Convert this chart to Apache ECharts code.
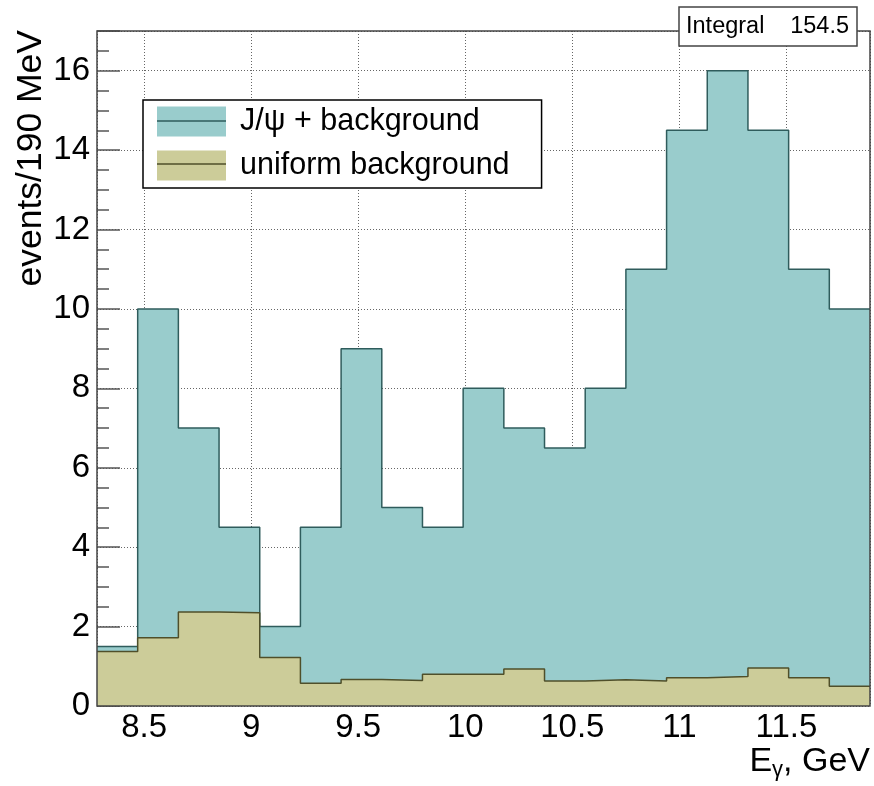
<!DOCTYPE html>
<html><head><meta charset="utf-8">
<script src="https://cdn.jsdelivr.net/npm/echarts@6/dist/echarts.min.js"></script>
<style>html,body{margin:0;padding:0;background:#fff}#c{width:874px;height:786px}</style>
</head><body><div id="c"></div>
<script>
// Bin edges of the 190 MeV histogram (GeV)
const binEdges = [8.28, 8.47, 8.66, 8.85, 9.04, 9.23, 9.42, 9.61, 9.80, 9.99,
                  10.18, 10.37, 10.56, 10.75, 10.94, 11.13, 11.32, 11.51, 11.70, 11.89];
// J/psi + background (events per bin)
const signalPlusBg = [1.5, 10, 7, 4.5, 2, 4.5, 9, 5, 4.5, 8, 7, 6.5, 8, 11, 14.5, 16, 14.5, 11, 10];
// uniform background (events per bin)
const uniformBg = [1.37, 1.72, 2.37, 2.35, 1.22, 0.57, 0.67, 0.64, 0.80, 0.80, 0.93, 0.63, 0.66, 0.63, 0.71, 0.74, 0.96, 0.71, 0.50];
const xTickLabels = [8.5, 9, 9.5, 10, 10.5, 11, 11.5];
const yTickLabels = [0, 2, 4, 6, 8, 10, 12, 14, 16];
const seriesNames = ['J/ψ + background', 'uniform background'];
const integralValue = '154.5';

const FONT = 'Liberation Sans, Arial, Helvetica, sans-serif';
const BLUE = '#99cccc', BLUE_LINE = '#2f5c5c';
const TAN = '#cccc99', TAN_LINE = '#4f4f2a';

function stepData(vals) {
  const d = vals.map((v, i) => [binEdges[i], v]);
  d.push([binEdges[binEdges.length - 1], vals[vals.length - 1]]);
  return d;
}

const chart = echarts.init(document.getElementById('c'), null, {renderer: 'canvas'});
const option = {
  animation: false,
  backgroundColor: '#fff',
  grid: {left: 97, right: 4, top: 31, bottom: 80, containLabel: false},
  xAxis: {
    type: 'value',
    min: binEdges[0], max: binEdges[binEdges.length - 1],
    minInterval: 0.5, maxInterval: 0.5, splitNumber: 7,
    axisLine: {show: false},
    axisTick: {show: false},
    axisLabel: {
      show: true, showMinLabel: false, showMaxLabel: false,
      fontFamily: FONT, fontSize: 33, color: '#000', margin: 5,
      formatter: v => (xTickLabels.some(t => Math.abs(t - v) < 1e-6) ? String(+v.toFixed(2)) : '')
    },
    splitLine: {show: true, lineStyle: {color: '#666', width: 1, type: [1, 2]}}
  },
  yAxis: {
    type: 'value', min: 0, max: 17, interval: 2,
    axisLine: {show: false},
    axisTick: {show: true, inside: true, length: 23, lineStyle: {color: '#555', width: 1.5}},
    minorTick: {show: true, splitNumber: 4, length: 12, lineStyle: {color: '#555', width: 1.5}},
    axisLabel: {
      show: true, showMaxLabel: false,
      fontFamily: FONT, fontSize: 33, color: '#000', margin: 7,
      formatter: v => (yTickLabels.includes(v) ? String(v) : '')
    },
    splitLine: {show: true, lineStyle: {color: '#666', width: 1, type: [1, 2]}}
  },
  legend: {
    left: 143, top: 100,
    orient: 'vertical',
    backgroundColor: '#fff', borderColor: '#000', borderWidth: 1.5,
    padding: [6, 32, 7, 14],
    itemGap: 13, itemWidth: 69, itemHeight: 30,
    icon: 'rect',
    textStyle: {fontFamily: FONT, fontSize: 30.5, color: '#000', padding: [2, 0, 0, 9]},
    data: [
      {name: seriesNames[0], itemStyle: {color: BLUE, borderWidth: 0}},
      {name: seriesNames[1], itemStyle: {color: TAN, borderWidth: 0}}
    ]
  },
  series: [
    {
      name: seriesNames[0], type: 'line', step: 'end', showSymbol: false, symbol: 'none',
      data: stepData(signalPlusBg), z: 2,
      lineStyle: {color: BLUE_LINE, width: 1.5},
      itemStyle: {color: BLUE},
      areaStyle: {color: BLUE, opacity: 1}
    },
    {
      name: seriesNames[1], type: 'line', step: 'end', showSymbol: false, symbol: 'none',
      data: stepData(uniformBg), z: 3,
      lineStyle: {color: TAN_LINE, width: 1.5},
      itemStyle: {color: TAN},
      areaStyle: {color: TAN, opacity: 1}
    }
  ],
  graphic: [
    // plot frame
    {type: 'rect', z: 50, silent: true,
     shape: {x: 97, y: 31, width: 773, height: 675},
     style: {fill: 'none', stroke: '#444', lineWidth: 1.5}},
    // legend swatch centre lines
    {type: 'line', z: 60, shape: {x1: 157, y1: 121, x2: 226, y2: 121}, style: {stroke: BLUE_LINE, lineWidth: 1.5}},
    {type: 'line', z: 60, shape: {x1: 157, y1: 164, x2: 226, y2: 164}, style: {stroke: TAN_LINE, lineWidth: 1.5}},
    // stats box
    {type: 'rect', z: 70, shape: {x: 679, y: 7, width: 178, height: 39},
     style: {fill: '#fff', stroke: '#444', lineWidth: 1.5}},
    {type: 'text', z: 71, x: 686, y: 27,
     style: {text: 'Integral', font: '23.5px ' + FONT, fill: '#000', align: 'left', verticalAlign: 'middle'}},
    {type: 'text', z: 71, x: 849, y: 27,
     style: {text: integralValue, font: '23.5px ' + FONT, fill: '#000', align: 'right', verticalAlign: 'middle'}},
    // y axis title
    {type: 'text', z: 71, x: 31, y: 30, rotation: Math.PI / 2,
     style: {text: 'events/190 MeV', font: '35.5px ' + FONT, fill: '#000', align: 'right', verticalAlign: 'middle'}},
    // x axis title
    {type: 'text', z: 71, x: 870, y: 781,
     style: {
       text: '{a|E}{s|γ}{a|, GeV}', fill: '#000', align: 'right', verticalAlign: 'bottom',
       rich: {
         a: {fontFamily: FONT, fontSize: 34, lineHeight: 38, color: '#000', verticalAlign: 'middle'},
         s: {fontFamily: FONT, fontSize: 22, color: '#000', verticalAlign: 'bottom'}
       }
     }}
  ]
};
chart.setOption(option);
</script>
</body></html>
